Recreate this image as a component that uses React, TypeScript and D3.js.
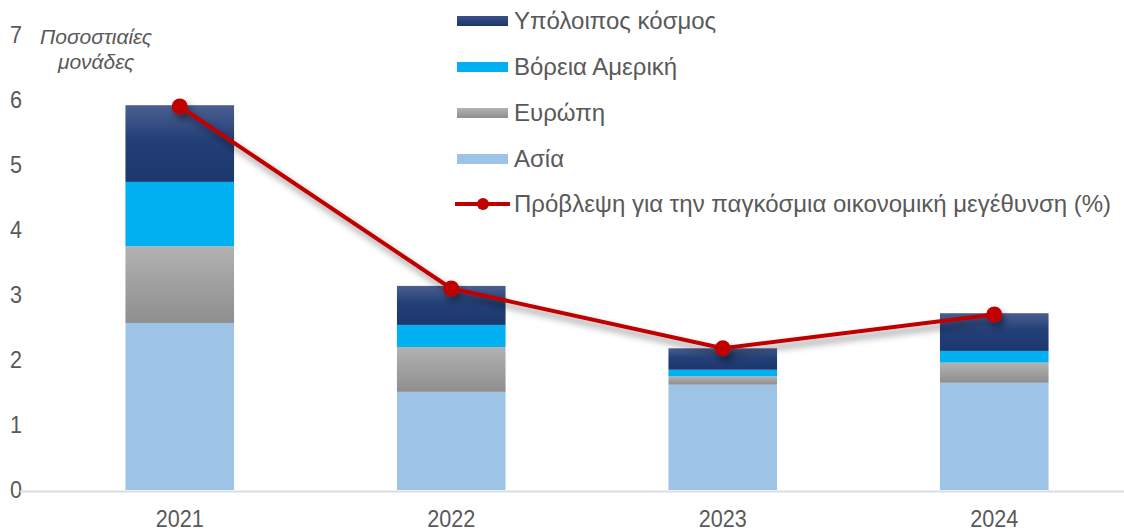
import React from "react";
import * as d3 from "d3";

const years = ["2021", "2022", "2023", "2024"];
const asia = [2.57, 1.51, 1.62, 1.65];
const europe = [1.18, 0.69, 0.13, 0.31];
const northAmerica = [0.99, 0.34, 0.1, 0.18];
const restOfWorld = [1.18, 0.6, 0.33, 0.58];
const forecast = [5.9, 3.1, 2.18, 2.7];
const yTicks = [0, 1, 2, 3, 4, 5, 6, 7];

const seriesNames = ["Asia", "Europe", "NA", "Rest"];
const seriesValues = [asia, europe, northAmerica, restOfWorld];
const fills = ["#9dc3e6", "url(#gEur)", "#00b0f0", "url(#gRest)"];

const legendItems = [
  { label: "Υπόλοιπος κόσμος", fill: "url(#gRestL)", type: "rect" },
  { label: "Βόρεια Αμερική", fill: "#00b0f0", type: "rect" },
  { label: "Ευρώπη", fill: "url(#gEurL)", type: "rect" },
  { label: "Ασία", fill: "#9dc3e6", type: "rect" },
  { label: "Πρόβλεψη για την παγκόσμια οικονομική μεγέθυνση (%)", fill: "#c00000", type: "line" },
];

export default function App() {
  const W = 1124;
  const H = 532;
  const y = d3.scaleLinear().domain([0, 7]).range([490, 35]);
  const x = d3.scaleBand().domain(years).range([44, 1130]).paddingInner(0.6).paddingOuter(0.3);
  const bw = x.bandwidth();

  const stackData = years.map((yr, i) => {
    const o: any = { year: yr };
    seriesNames.forEach((s, k) => (o[s] = seriesValues[k][i]));
    return o;
  });
  const stacked = d3.stack().keys(seriesNames)(stackData as any);

  const line = d3
    .line<number>()
    .x((_, i) => (x(years[i]) as number) + bw / 2)
    .y((d) => y(d));

  const font = "'Liberation Sans', Arial, sans-serif";
  const textColor = "#595959";
  const sx = 0.9;

  return (
    <svg width={W} height={H} style={{ position: "absolute", left: 0, top: 0 }} fontFamily={font}>
      <defs>
        <linearGradient id="gRest" x1="0" y1="0" x2="0" y2="1">
          <stop offset="0" stopColor="#4b5f8f" />
          <stop offset="0.45" stopColor="#233f78" />
          <stop offset="1" stopColor="#1b376c" />
        </linearGradient>
        <linearGradient id="gEur" x1="0" y1="0" x2="0" y2="1">
          <stop offset="0" stopColor="#b2b2b2" />
          <stop offset="1" stopColor="#8e8e8e" />
        </linearGradient>
        <linearGradient id="gRestL" x1="0" y1="0" x2="0" y2="1">
          <stop offset="0" stopColor="#3a5188" />
          <stop offset="1" stopColor="#1b376c" />
        </linearGradient>
        <linearGradient id="gEurL" x1="0" y1="0" x2="0" y2="1">
          <stop offset="0" stopColor="#b2b2b2" />
          <stop offset="1" stopColor="#8e8e8e" />
        </linearGradient>
        <filter id="shadow" x="-10%" y="-10%" width="120%" height="130%">
          <feDropShadow dx="3" dy="5" stdDeviation="3.5" floodColor="#000" floodOpacity="0.45" />
        </filter>
      </defs>

      {/* y ticks */}
      {yTicks.map((t) => (
        <text
          key={t}
          transform={`translate(16,${y(t)}) scale(${sx},1)`}
          dy="0.35em"
          textAnchor="middle"
          fontSize={24}
          fill={textColor}
        >
          {t}
        </text>
      ))}
      <text x={96} y={37} dy="0.35em" textAnchor="middle" fontSize={21} fontStyle="italic" fill={textColor}>
        Ποσοστιαίες
      </text>
      <text x={96} y={62} dy="0.35em" textAnchor="middle" fontSize={21} fontStyle="italic" fill={textColor}>
        μονάδες
      </text>

      {/* bars */}
      {stacked.map((s, k) => (
        <g key={k}>
          {s.map((d, i) => (
            <rect
              key={i}
              x={x(years[i])}
              y={y(d[1])}
              width={bw}
              height={y(d[0]) - y(d[1])}
              fill={fills[k]}
            />
          ))}
        </g>
      ))}

      {/* axis line */}
      <line x1={20} x2={W} y1={491.5} y2={491.5} stroke="#d9dde6" strokeWidth={2} />

      {/* x labels */}
      {years.map((yr) => (
        <text
          key={yr}
          transform={`translate(${(x(yr) as number) + bw / 2},519) scale(${sx},1)`}
          dy="0.35em"
          textAnchor="middle"
          fontSize={24}
          fill={textColor}
        >
          {yr}
        </text>
      ))}

      {/* line */}
      <g filter="url(#shadow)">
        <path d={line(forecast) || ""} fill="none" stroke="#c00000" strokeWidth={4} strokeLinejoin="round" />
        {forecast.map((v, i) => (
          <circle key={i} cx={(x(years[i]) as number) + bw / 2} cy={y(v)} r={8} fill="#c00000" />
        ))}
      </g>

      {/* legend */}
      {legendItems.map((it, i) => {
        const ly = [21, 67, 113, 159, 204][i];
        return (
          <g key={i}>
            {it.type === "rect" ? (
              <rect x={457} y={ly - 5} width={51} height={10} fill={it.fill} />
            ) : (
              <g>
                <line x1={455} x2={510} y1={ly} y2={ly} stroke={it.fill} strokeWidth={4} />
                <circle cx={483} cy={ly} r={6} fill={it.fill} />
              </g>
            )}
            <text x={514} y={ly} dy="0.35em" fontSize={24} fill={textColor}>
              {it.label}
            </text>
          </g>
        );
      })}
    </svg>
  );
}
